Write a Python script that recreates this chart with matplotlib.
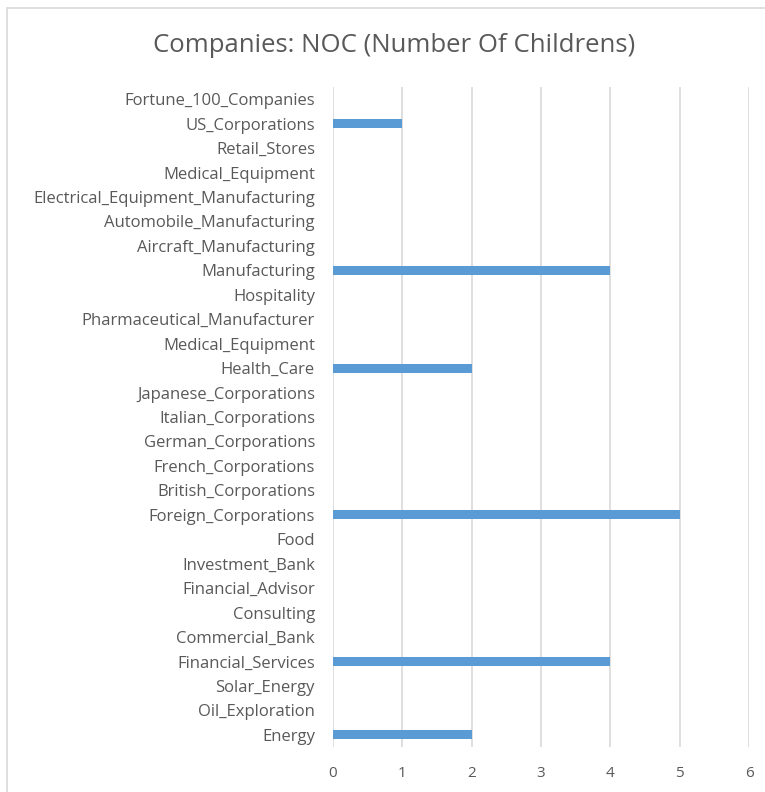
import matplotlib
matplotlib.use('Agg')
import matplotlib.pyplot as plt
from matplotlib.patches import Rectangle

# categories bottom -> top
categories = ['Energy', 'Oil_Exploration', 'Solar_Energy', 'Financial_Services',
              'Commercial_Bank', 'Consulting', 'Financial_Advisor', 'Investment_Bank',
              'Food', 'Foreign_Corporations', 'British_Corporations', 'French_Corporations',
              'German_Corporations', 'Italian_Corporations', 'Japanese_Corporations',
              'Health_Care', 'Medical_Equipment', 'Pharmaceutical_Manufacturer',
              'Hospitality', 'Manufacturing', 'Aircraft_Manufacturing',
              'Automobile_Manufacturing', 'Electrical_Equipment_Manufacturing',
              'Medical_Equipment', 'Retail_Stores', 'US_Corporations',
              'Fortune_100_Companies']
noc = [2, 0, 0, 4, 0, 0, 0, 0, 0, 5, 0, 0, 0, 0, 0, 2, 0, 0, 0, 4, 0, 0, 0, 0, 0, 1, 0]
x_ticks = [0, 1, 2, 3, 4, 5, 6]

text_col = '#595959'
plt.rcParams['font.family'] = ['Open Sans', 'DejaVu Sans']

fig = plt.figure(figsize=(7.65, 7.92), dpi=100)
fig.patches.append(Rectangle((7 / 765, -0.1), 1.1, (792 - 8) / 792 + 0.1,
                             transform=fig.transFigure, fill=False,
                             edgecolor='#d9d9d9', linewidth=1.2))

ax = fig.add_axes([333 / 765, 45 / 792, 416 / 765, 660 / 792])
pos = list(range(len(categories)))
ax.barh(pos, noc, height=0.37, color='#5b9bd5', zorder=3)

ax.set_xlim(0, 6)
ax.set_ylim(-0.5, len(categories) - 0.5)
ax.set_xticks(x_ticks)
ax.set_yticks(pos)
ax.set_yticklabels(categories, fontsize=12)
ax.grid(axis='x', color='#d9d9d9', linewidth=1.2, zorder=0)
for s in ax.spines.values():
    s.set_visible(False)
ax.tick_params(axis='both', length=0, colors=text_col)
ax.tick_params(axis='x', labelsize=11, pad=14)
ax.tick_params(axis='y', pad=13)

fig.text(394 / 765, 1 - 45 / 792, 'Companies: NOC (Number Of Childrens)',
         ha='center', va='center', fontsize=18.5, color=text_col)

fig.savefig('out.png', dpi=100)
